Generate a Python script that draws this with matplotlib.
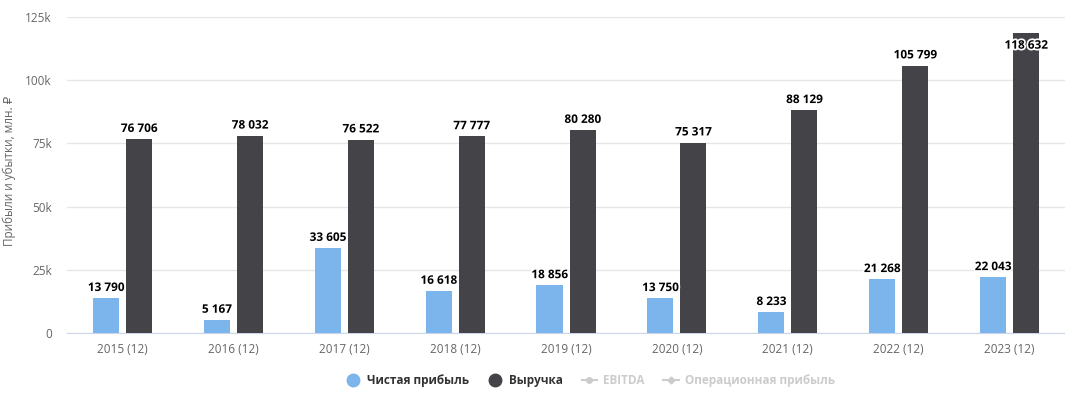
import numpy as np
import matplotlib.pyplot as plt
import matplotlib.patheffects as pe
from matplotlib.lines import Line2D

# данные
годы = ['2015 (12)', '2016 (12)', '2017 (12)', '2018 (12)', '2019 (12)',
        '2020 (12)', '2021 (12)', '2022 (12)', '2023 (12)']
чистая_прибыль = [13790, 5167, 33605, 16618, 18856, 13750, 8233, 21268, 22043]
выручка = [76706, 78032, 76522, 77777, 80280, 75317, 88129, 105799, 118632]

синий = '#7cb5ec'
тёмный = '#434348'

plt.rcParams['font.family'] = ['Open Sans', 'DejaVu Sans']

fig = plt.figure(figsize=(10.65, 3.93), dpi=100)
ax = fig.add_axes([0.063, 0.1527, 0.937, 0.804])

x = np.arange(len(годы))
ширина = 0.235
сдвиг = 0.149
ax.bar(x - сдвиг, чистая_прибыль, width=ширина, color=синий, zorder=3)
ax.bar(x + сдвиг, выручка, width=ширина, color=тёмный, zorder=3)

ax.set_xlim(-0.5, len(годы) - 0.5)
ax.set_ylim(0, 125000)
ax.set_yticks([0, 25000, 50000, 75000, 100000, 125000])
ax.set_yticklabels(['0', '25k', '50k', '75k', '100k', '125k'])
ax.set_xticks(x)
ax.set_xticklabels(годы)
ax.tick_params(axis='both', length=0, colors='#666666', labelsize=8.5)
ax.tick_params(axis='x', pad=7)
ax.tick_params(axis='y', pad=11)
ax.grid(axis='y', color='#e6e6e6', linewidth=1, zorder=0)
for s in ['top', 'right', 'left']:
    ax.spines[s].set_visible(False)
ax.spines['bottom'].set_color('#ccd6eb')
fig.text(9 / 1065, 0.565, 'Прибыли и убытки, млн. ₽', color='#666666', fontsize=8.5,
         rotation=90, ha='center', va='center')


def подпись(xp, v):
    txt = f'{v:,}'.replace(',', ' ')
    if v > 112000:
        t = ax.annotate(txt, (xp, v), xytext=(0, -4), textcoords='offset points',
                        ha='center', va='top', fontsize=8.5, fontweight='bold')
    else:
        t = ax.annotate(txt, (xp, v), xytext=(0, 3), textcoords='offset points',
                        ha='center', va='bottom', fontsize=8.5, fontweight='bold')
    t.set_path_effects([pe.withStroke(linewidth=2.5, foreground='white')])
    t.set_zorder(5)


for i in range(len(годы)):
    подпись(x[i] - сдвиг, чистая_прибыль[i])
    подпись(x[i] + сдвиг, выручка[i])

серый = '#cccccc'
ручки = [
    Line2D([], [], marker='o', linestyle='none', color=синий, markersize=9),
    Line2D([], [], marker='o', linestyle='none', color=тёмный, markersize=9),
    Line2D([], [], marker='o', linestyle='-', color=серый, markersize=4, linewidth=1.5),
    Line2D([], [], marker='D', linestyle='-', color=серый, markersize=3.5, linewidth=1.5),
]
подписи = ['Чистая прибыль', 'Выручка', 'EBITDA', 'Операционная прибыль']
лег = fig.legend(ручки, подписи, loc='center', bbox_to_anchor=(0.554, 0.031), ncol=4,
                 frameon=False, handlelength=1.3, handletextpad=0.5, columnspacing=1.6,
                 prop={'size': 8.5, 'weight': 'bold'})
for t, c in zip(лег.get_texts(), ['#333333', '#333333', серый, серый]):
    t.set_color(c)

fig.savefig('out.png', dpi=100)
